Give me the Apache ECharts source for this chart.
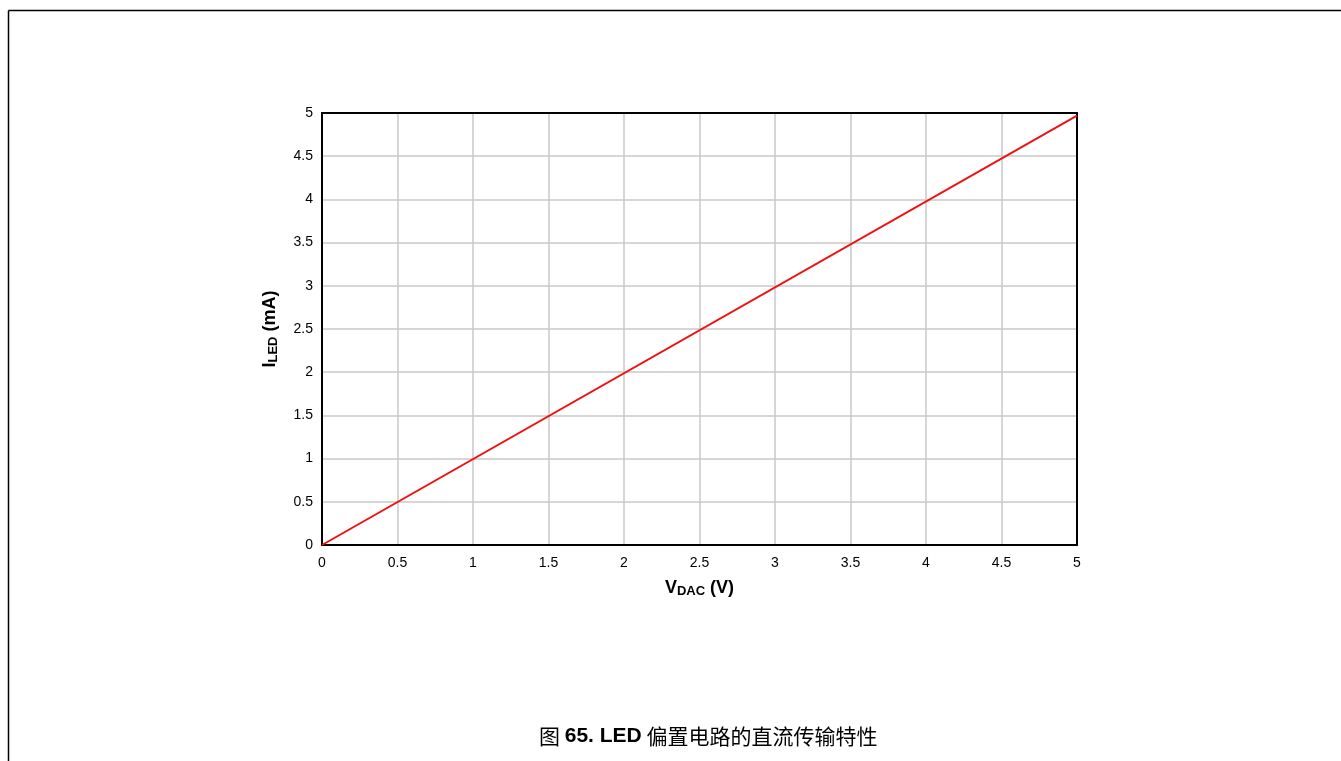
<!DOCTYPE html>
<html>
<head>
<meta charset="utf-8">
<script src="https://cdn.jsdelivr.net/npm/echarts@6/dist/echarts.min.js"></script>
<style>html,body{margin:0;padding:0;background:#fff;}#c{width:1341px;height:761px;}</style>
</head>
<body>
<div id="c"></div>
<script>
var vdac = [0, 5];
var iled = [0, 4.97];
var xTicks = ['0','0.5','1','1.5','2','2.5','3','3.5','4','4.5','5'];
var yTicks = ['0','0.5','1','1.5','2','2.5','3','3.5','4','4.5','5'];

var chart = echarts.init(document.getElementById('c'));
var F = 'Liberation Sans, Arial, Helvetica, sans-serif';
function frameAxis(pos) {
  return {
    type: 'value', min: 0, max: 5, interval: 0.5, position: pos,
    axisLine: {show: true, onZero: false, lineStyle: {color: '#000', width: 2}},
    axisTick: {show: false}, axisLabel: {show: false}, splitLine: {show: false}
  };
}
chart.setOption({
  animation: false,
  backgroundColor: '#fff',
  title: {
    left: 534, top: 721,
    text: '{n|图 }{b|65. LED}{n| 偏置电路的直流传输特性}',
    textStyle: {
      rich: {
        n: {fontFamily: 'Noto Sans CJK SC, Liberation Sans, sans-serif', fontSize: 21, fontWeight: 'normal', color: '#000'},
        b: {fontFamily: F, fontSize: 21, fontWeight: 'bold', color: '#000'}
      }
    }
  },
  graphic: [
    {type: 'line', shape: {x1: 8.5, y1: 10.5, x2: 1341, y2: 10.5}, style: {stroke: '#000', lineWidth: 1.5}},
    {type: 'line', shape: {x1: 8.5, y1: 10.5, x2: 8.5, y2: 761}, style: {stroke: '#000', lineWidth: 1.5}}
  ],
  grid: {left: 322, right: 264, top: 113, bottom: 216, show: false},
  xAxis: [{
    type: 'value', min: 0, max: 5, interval: 0.5,
    axisLine: {show: true, onZero: false, lineStyle: {color: '#000', width: 2}},
    axisTick: {show: false},
    splitLine: {show: true, lineStyle: {color: '#c8c8c8', width: 1.5}},
    axisLabel: {color: '#000', fontFamily: F, fontSize: 14, margin: 11,
      formatter: function (v) { return xTicks[Math.round(v * 2)]; }},
    name: '{b|V}{s|DAC}{b| (V)}', nameLocation: 'middle', nameGap: 33,
    nameTextStyle: {rich: {
      b: {fontFamily: F, fontSize: 18, fontWeight: 'bold', color: '#000'},
      s: {fontFamily: F, fontSize: 13, fontWeight: 'bold', color: '#000', verticalAlign: 'bottom', padding: [7, 0, 0, 0]}
    }}
  }, frameAxis('top')],
  yAxis: [{
    type: 'value', min: 0, max: 5, interval: 0.5,
    axisLine: {show: true, onZero: false, lineStyle: {color: '#000', width: 2}},
    axisTick: {show: false},
    splitLine: {show: true, lineStyle: {color: '#c8c8c8', width: 1.5}},
    axisLabel: {color: '#000', fontFamily: F, fontSize: 14, margin: 9,
      formatter: function (v) { return yTicks[Math.round(v * 2)]; }},
    name: '{b|I}{s|LED}{b| (mA)}', nameLocation: 'middle', nameGap: 42,
    nameTextStyle: {rich: {
      b: {fontFamily: F, fontSize: 18, fontWeight: 'bold', color: '#000'},
      s: {fontFamily: F, fontSize: 13, fontWeight: 'bold', color: '#000', verticalAlign: 'bottom', padding: [7, 0, 0, 0]}
    }}
  }, frameAxis('right')],
  series: [{
    type: 'line', showSymbol: false, xAxisIndex: 0, yAxisIndex: 0,
    data: vdac.map(function (v, i) { return [v, iled[i]]; }),
    lineStyle: {color: '#ee1111', width: 2}
  }]
});
</script>
</body>
</html>
